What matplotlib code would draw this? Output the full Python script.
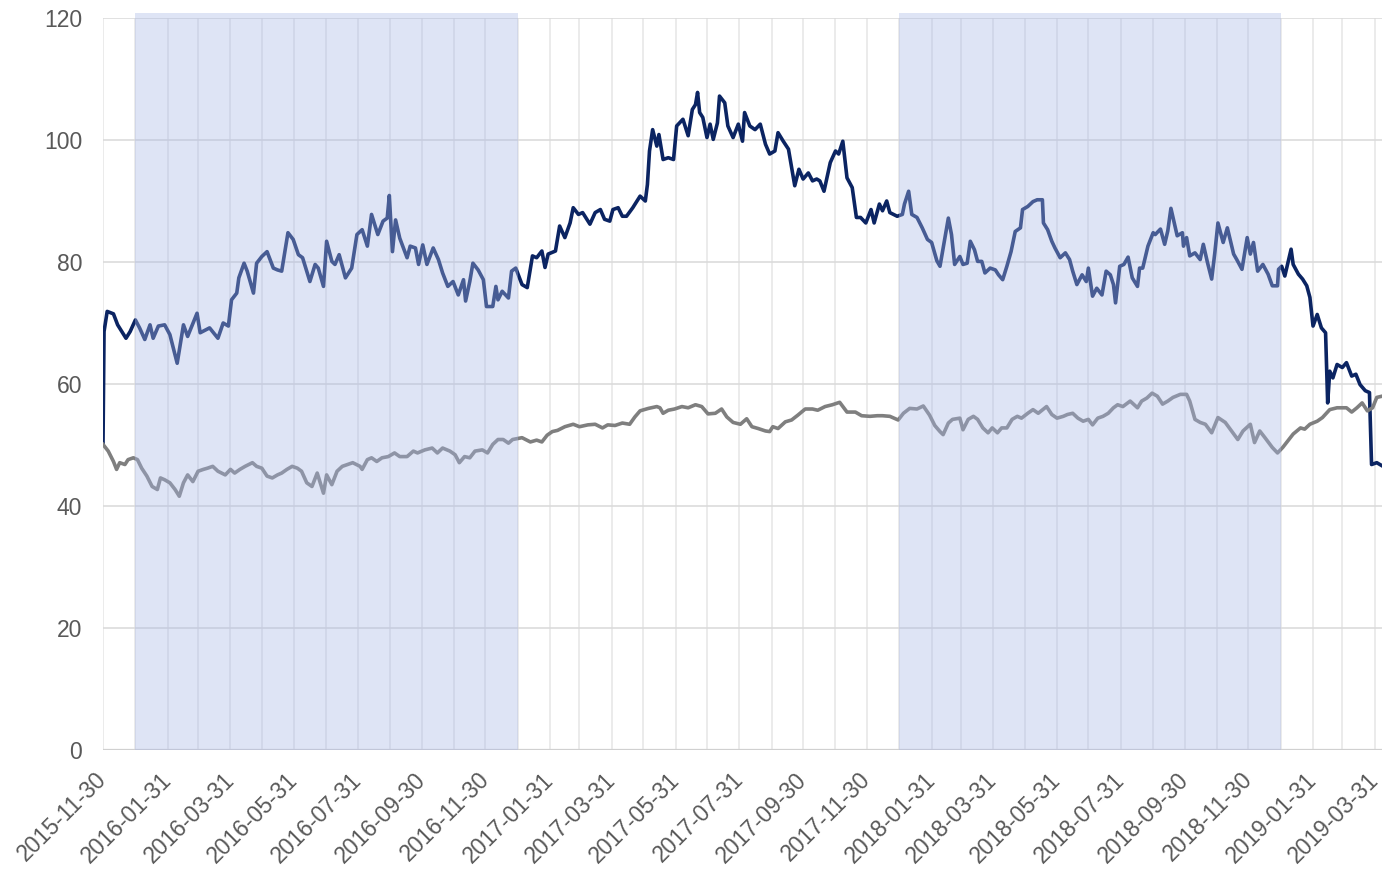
import pandas as pd
import matplotlib
matplotlib.use('Agg')
import matplotlib.pyplot as plt
from matplotlib.transforms import ScaledTranslation

plt.rcParams['font.family'] = ['Liberation Sans', 'DejaVu Sans']

# x values are days after 2015-11-30
start = pd.Timestamp('2015-11-30')

nav_day = [0, 1, 4, 10, 14, 22, 26, 31, 35, 40, 45, 48, 53, 59, 64, 71, 77, 81, 90, 93,
           102, 110, 115, 120, 123, 128, 130, 135, 138, 144, 147, 152, 157, 163, 167, 171, 177, 182, 187, 191,
           198, 203, 206, 211, 214, 219, 222, 226, 232, 238, 243, 248, 253, 257, 263, 268, 272, 274, 277, 280,
           284, 291, 294, 299, 302, 306, 310, 316, 321, 325, 330, 335, 340, 345, 347, 351, 354, 359, 364, 367,
           373, 376, 378, 382, 388, 391, 395, 401, 406, 411, 415, 420, 423, 426, 433, 437, 442, 447, 450, 455,
           459, 466, 471, 476, 480, 485, 488, 493, 497, 501, 507, 514, 519, 521, 523, 526, 530, 532, 536, 541,
           546, 549, 555, 560, 564, 567, 569, 571, 574, 578, 581, 584, 588, 590, 595, 598, 603, 608, 612, 614,
           619, 624, 629, 634, 638, 643, 646, 651, 656, 659, 662, 666, 670, 675, 679, 683, 686, 690, 696, 701,
           704, 708, 712, 717, 721, 725, 730, 735, 738, 743, 746, 750, 753, 760, 765, 767, 771, 774, 779, 784,
           789, 793, 798, 801, 809, 812, 815, 820, 823, 827, 830, 834, 837, 841, 844, 849, 854, 857, 861, 865,
           869, 873, 878, 880, 885, 890, 894, 899, 900, 904, 908, 911, 916, 921, 925, 928, 932, 937, 941, 943,
           947, 951, 956, 960, 964, 967, 969, 973, 977, 981, 985, 990, 992, 995, 1000, 1005, 1007, 1012, 1016, 1019,
           1022, 1028, 1033, 1034, 1037, 1040, 1045, 1050, 1053, 1057, 1061, 1064, 1067, 1072, 1076, 1082, 1085, 1090, 1095, 1098,
           1101, 1105, 1110, 1115, 1119, 1124, 1125, 1128, 1131, 1134, 1137, 1139, 1144, 1148, 1152, 1155, 1158, 1162, 1166, 1170,
           1172, 1174, 1177, 1181, 1186, 1190, 1195, 1199, 1203, 1208, 1212, 1214, 1219, 1224]
nav_val = [50, 68.6, 71.9, 71.5, 69.7, 67.5, 68.6, 70.5, 69.2, 67.3, 69.7, 67.5, 69.5, 69.7, 68.1, 63.4, 69.7, 67.8, 71.6, 68.4,
           69.2, 67.5, 70, 69.5, 73.8, 74.9, 77.4, 79.8, 78.5, 74.9, 79.8, 80.9, 81.7, 79, 78.7, 78.5, 84.8, 83.7, 81.2, 80.7,
           76.8, 79.6, 79, 76, 83.4, 80.1, 79.6, 81.2, 77.4, 79, 84.5, 85.3, 82.6, 87.8, 84.5, 86.7, 87.2, 90.9, 81.7, 86.9,
           83.9, 80.7, 82.6, 82.3, 79.6, 82.8, 79.6, 82.3, 80.4, 78.2, 76, 76.8, 74.6, 77.1, 73.6, 76.8, 79.8, 78.7, 77.1, 72.7,
           72.7, 76, 73.8, 75.2, 74.1, 78.5, 79, 76.3, 75.8, 81, 80.7, 81.8, 79.1, 81.3, 81.8, 85.9, 84, 86.4, 88.9, 87.8,
           88.1, 86.2, 88.1, 88.6, 87, 86.7, 88.6, 88.9, 87.5, 87.5, 88.9, 90.8, 90, 92.7, 98.2, 101.7, 99, 100.9, 96.8, 97.1,
           96.8, 102.3, 103.4, 100.7, 105, 105.8, 107.8, 104.5, 103.7, 100.4, 102.6, 100.1, 102.8, 107.2, 106.1, 102.3, 100.4, 102.6, 99.8, 104.5,
           102.3, 101.7, 102.6, 99.3, 97.7, 98.2, 101.2, 99.8, 98.5, 95.5, 92.5, 95.2, 93.6, 94.6, 93.3, 93.6, 93.3, 91.6, 96.3, 98.2,
           97.7, 99.8, 93.8, 92.2, 87.3, 87.3, 86.4, 88.6, 86.4, 89.5, 88.4, 90, 88.1, 87.5, 87.8, 89.5, 91.6, 87.8, 87.3, 85.6,
           83.7, 83.2, 80.2, 79.3, 87.2, 84.5, 79.6, 80.9, 79.6, 79.8, 83.4, 82, 80.1, 80.1, 78.2, 79, 78.7, 77.9, 77.1, 79.3,
           81.7, 85, 85.6, 88.6, 89.1, 89.9, 90.2, 90.2, 86.4, 85.3, 83.4, 82.3, 80.7, 81.5, 80.4, 78.5, 76.3, 77.9, 76.8, 79,
           74.4, 75.7, 74.6, 78.5, 77.9, 76.3, 73.3, 79.3, 79.6, 80.8, 77.4, 76, 79, 79, 82.6, 84.8, 84.5, 85.4, 82.9, 85.1,
           88.8, 84.3, 84.8, 82.6, 84, 81, 81.5, 80.4, 82.9, 79.9, 77.2, 81.5, 86.4, 83.2, 85.6, 81.3, 80.4, 78.8, 84, 81.3,
           83.2, 78.5, 79.6, 78, 76.1, 76.1, 78.8, 79.3, 77.7, 79.9, 82.1, 79.6, 78, 77.2, 76.1, 74.2, 69.5, 71.4, 69.2, 68.4,
           56.9, 62.1, 61, 63.2, 62.7, 63.5, 61.3, 61.6, 59.9, 58.9, 58.6, 46.8, 47.1, 46.6]

grey_day = [0, 5, 10, 13, 16, 21, 24, 29, 33, 37, 42, 47, 52, 55, 59, 64, 69, 73, 77, 81,
            86, 91, 96, 100, 105, 110, 117, 122, 126, 131, 136, 143, 147, 152, 157, 162, 167, 171, 176, 181,
            186, 190, 195, 200, 205, 211, 214, 219, 224, 229, 234, 239, 246, 248, 253, 257, 262, 267, 273, 279,
            284, 291, 297, 301, 308, 315, 320, 325, 332, 337, 341, 346, 351, 356, 363, 368, 373, 378, 383, 388,
            392, 401, 409, 415, 420, 425, 430, 435, 442, 450, 456, 464, 471, 478, 483, 490, 497, 504, 509, 514,
            522, 530, 533, 536, 541, 547, 554, 560, 567, 573, 579, 586, 592, 597, 603, 610, 616, 621, 627, 634,
            638, 641, 646, 653, 659, 665, 672, 679, 684, 691, 698, 705, 712, 720, 726, 734, 741, 746, 753, 761,
            766, 772, 779, 785, 791, 796, 801, 804, 809, 813, 820, 823, 828, 833, 837, 842, 847, 851, 856, 860,
            865, 870, 875, 879, 885, 890, 895, 903, 908, 913, 919, 923, 928, 933, 938, 943, 947, 952, 957, 962,
            967, 971, 976, 983, 990, 994, 999, 1004, 1009, 1014, 1019, 1024, 1031, 1037, 1040, 1045, 1050, 1055, 1061, 1067,
            1074, 1080, 1086, 1091, 1098, 1102, 1107, 1112, 1119, 1124, 1129, 1134, 1139, 1146, 1150, 1155, 1162, 1167, 1174, 1181,
            1186, 1190, 1195, 1200, 1205, 1210, 1215, 1219, 1224]
grey_val = [50.1, 49, 47.3, 46, 47.1, 46.8, 47.6, 47.9, 47.6, 46.2, 44.9, 43.2, 42.7, 44.6, 44.3, 43.8, 42.7, 41.6, 43.8, 45.1,
            44, 45.7, 46, 46.2, 46.5, 45.7, 45.1, 46, 45.4, 46, 46.5, 47.1, 46.5, 46.2, 44.9, 44.6, 45.1, 45.4, 46, 46.5,
            46.2, 45.7, 43.8, 43.2, 45.4, 42.1, 45.1, 43.5, 45.7, 46.5, 46.8, 47.1, 46.5, 46, 47.6, 47.9, 47.3, 47.9, 48.1, 48.7,
            48.1, 48.1, 49, 48.7, 49.2, 49.5, 48.7, 49.5, 49, 48.4, 47.1, 48.1, 47.9, 49, 49.2, 48.7, 50.1, 50.9, 50.9, 50.3,
            50.9, 51.2, 50.5, 50.8, 50.5, 51.6, 52.2, 52.4, 53, 53.4, 53, 53.3, 53.4, 52.8, 53.3, 53.2, 53.6, 53.4, 54.6, 55.6,
            56, 56.3, 56.1, 55.2, 55.7, 55.9, 56.3, 56.1, 56.6, 56.3, 55.1, 55.2, 55.9, 54.6, 53.7, 53.4, 54.3, 53, 52.7, 52.3,
            52.2, 53, 52.7, 53.8, 54.1, 54.9, 55.9, 55.9, 55.7, 56.3, 56.6, 57, 55.4, 55.4, 54.8, 54.7, 54.8, 54.8, 54.7, 54.1,
            55.2, 56, 55.9, 56.4, 54.9, 53.2, 52.2, 51.7, 53.6, 54.2, 54.4, 52.5, 54.2, 54.7, 54.2, 52.8, 52, 52.8, 52, 52.8,
            52.8, 54.2, 54.7, 54.4, 55.2, 55.8, 55.2, 56.3, 55, 54.4, 54.7, 55, 55.2, 54.4, 53.9, 54.2, 53.3, 54.4, 54.7, 55.2,
            56.1, 56.6, 56.3, 57.2, 56.1, 57.2, 57.7, 58.5, 58, 56.7, 57.2, 57.8, 58.3, 58.3, 57.2, 54.2, 53.7, 53.4, 52, 54.5,
            53.7, 52.3, 50.9, 52.3, 53.4, 50.4, 52.3, 51.2, 49.6, 48.7, 49.6, 50.7, 51.8, 52.8, 52.6, 53.4, 53.9, 54.5, 55.8, 56.1,
            56.1, 56.1, 55.4, 56.1, 56.9, 55.6, 56.1, 57.8, 58]

shade_start = ['2015-12-31', '2017-12-31']
shade_end = ['2016-12-31', '2018-12-31']
yticks = [0, 20, 40, 60, 80, 100, 120]

nav_x = start + pd.to_timedelta(nav_day, unit='D')
grey_x = start + pd.to_timedelta(grey_day, unit='D')
month_ends = pd.date_range('2015-12-01', '2019-04-01', freq='MS') - pd.Timedelta(days=1)

fig = plt.figure(figsize=(13.83, 8.71), dpi=100)
ax = fig.add_axes([103 / 1383, 121 / 871, 1279 / 1383, 732 / 871])

ax.plot(nav_x, nav_val, color='#0b2462', lw=2.6, zorder=2, solid_joinstyle='round')
ax.plot(grey_x, grey_val, color='#7f7f7f', lw=2.6, zorder=2, solid_joinstyle='round')

for s, e in zip(shade_start, shade_end):
    ax.axvspan(pd.Timestamp(s), pd.Timestamp(e), ymin=0, ymax=1.007, color='#a9b8e6',
               alpha=0.38, lw=0, zorder=3, clip_on=False)

for y in yticks[1:]:
    ax.axhline(y, color='#d9d9d9', lw=1.1, zorder=1)
ax.axhline(0, color='#d0d0d0', lw=1.6, zorder=1)
for d in month_ends:
    ax.axvline(d, color='#e8e8e8', lw=1.2, zorder=0.5)

ax.set_xlim(start, start + pd.Timedelta(days=1224))
ax.set_ylim(0, 120)
ax.set_yticks(yticks)
ax.set_xticks(month_ends[::2])
ax.set_xticklabels([d.strftime('%Y-%m-%d') for d in month_ends[::2]])

for sp in ax.spines.values():
    sp.set_visible(False)
ax.tick_params(axis='both', length=0, labelsize=16.5, labelcolor='#595959')
ax.tick_params(axis='y', pad=15)
ax.tick_params(axis='x', pad=13)

shift = ScaledTranslation(-0.08, 0, fig.dpi_scale_trans)
for lbl in ax.get_xticklabels():
    lbl.set_rotation(45)
    lbl.set_ha('right')
    lbl.set_va('top')
    lbl.set_rotation_mode('anchor')
    lbl.set_transform(lbl.get_transform() + shift)

fig.savefig('out.png', dpi=100)
